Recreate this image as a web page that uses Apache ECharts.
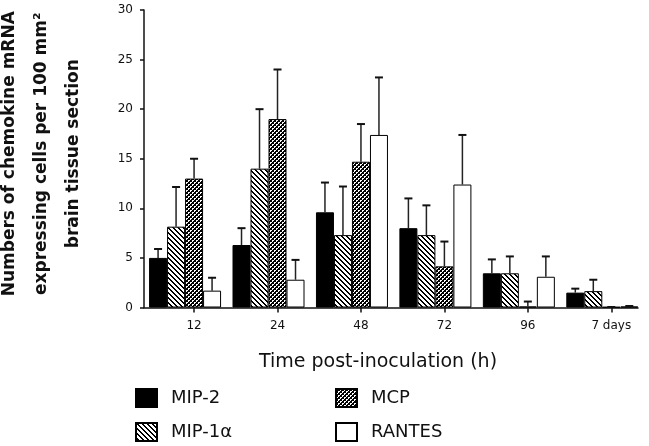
<!DOCTYPE html>
<html><head><meta charset="utf-8">
<script src="https://cdn.jsdelivr.net/npm/echarts@6/dist/echarts.min.js"></script>
<style>html,body{margin:0;padding:0;background:#fff}#c{width:649px;height:446px}</style>
</head><body><div id="c"></div>
<script>
// ---- data ----
const categories = ['12', '24', '48', '72', '96', '7 days'];
const seriesNames = ['MIP-2', 'MIP-1α', 'MCP', 'RANTES'];
const mip2      = [5.0, 6.3, 9.6, 8.0, 3.45, 1.5];
const mip2Err   = [0.9, 1.7, 3.0, 3.0, 1.4, 0.4];
const mip1a     = [8.15, 14.0, 7.3, 7.3, 3.45, 1.65];
const mip1aErr  = [4.0, 6.0, 4.9, 3.0, 1.7, 1.15];
const mcp       = [13.0, 19.0, 14.7, 4.15, 0.1, 0.05];
const mcpErr    = [2.0, 5.0, 3.8, 2.5, 0.5, 0.0];
const rantes    = [1.7, 2.8, 17.4, 12.4, 3.1, 0.1];
const rantesErr = [1.3, 2.0, 5.8, 5.0, 2.05, 0.05];

// ---- styles ----
const BAR_W = 18, CAP = 4;
const FONT = 'DejaVu Sans';

function pixelPattern(size, isBlack) {
  const c = document.createElement('canvas');
  c.width = c.height = size;
  const g = c.getContext('2d');
  const img = g.createImageData(size, size);
  for (let y = 0; y < size; y++) for (let x = 0; x < size; x++) {
    const v = isBlack(x, y) ? 0 : 255, o = (y * size + x) * 4;
    img.data[o] = img.data[o + 1] = img.data[o + 2] = v; img.data[o + 3] = 255;
  }
  g.putImageData(img, 0, 0);
  return { image: c, repeat: 'repeat' };
}
// diagonal "\" hatch
const hatch = pixelPattern(5, (x, y) => { const d = ((x - y) % 5 + 5) % 5; return d === 0 || d === 1; });
// dense black mesh with white dots
const whiteDots = new Set(['0,0', '1,0', '0,1', '2,2', '3,2', '2,3']);
const mesh = pixelPattern(4, (x, y) => !whiteDots.has(x + ',' + y));

const fills = ['#000', hatch, mesh, '#fff'];
const values = [mip2, mip1a, mcp, rantes];
const errors = [mip2Err, mip1aErr, mcpErr, rantesErr];

const series = [];
values.forEach((vals, k) => {
  series.push({
    type: 'bar', name: seriesNames[k], barWidth: BAR_W, barGap: '0%',
    data: vals.map((v, i) => [i + 1, v]),
    itemStyle: { color: fills[k], borderColor: '#000', borderWidth: 1 },
    emphasis: { disabled: true }, z: 2
  });
});
// empty fifth slot (the original layout reserves room for it)
series.push({ type: 'bar', name: '', barWidth: BAR_W, barGap: '0%', data: [] });

values.forEach((vals, k) => {
  const errs = errors[k];
  series.push({
    type: 'custom', silent: true, z: 3,
    data: vals.map((v, i) => [i + 1, v, v + errs[i]]),
    encode: { x: 0, y: [1, 2] },
    renderItem(params, api) {
      const p0 = api.coord([api.value(0), api.value(1)]);
      const p1 = api.coord([api.value(0), api.value(2)]);
      const cx = p0[0] + (k - 2) * BAR_W;
      return { type: 'group', children: [
        { type: 'line', shape: { x1: cx, y1: p0[1], x2: cx, y2: p1[1] }, style: { stroke: '#222', lineWidth: 1.5 } },
        { type: 'line', shape: { x1: cx - CAP, y1: p1[1], x2: cx + CAP, y2: p1[1] }, style: { stroke: '#111', lineWidth: 2 } }
      ]};
    }
  });
});

const tickPos = categories.map((_, i) => i + 1);
const chart = echarts.init(document.getElementById('c'), null, { renderer: 'canvas' });
chart.setOption({
  animation: false,
  backgroundColor: '#fff',
  grid: { left: 144, right: 11, top: 10, bottom: 138.5, outerBoundsMode: 'none' },
  xAxis: {
    type: 'value', min: 0.4, max: 6.32,
    axisLine: { show: true, lineStyle: { color: '#111', width: 1.5 } },
    axisTick: { show: true, length: 5, customValues: tickPos, lineStyle: { color: '#111', width: 1.5 } },
    axisLabel: { customValues: tickPos, formatter: v => categories[Math.round(v) - 1], margin: 12,
      fontSize: 12, fontFamily: FONT, color: '#111' },
    splitLine: { show: false },
    name: 'Time post-inoculation (h)', nameLocation: 'middle', nameGap: 45,
    nameTextStyle: { fontSize: 19, fontFamily: FONT, color: '#111', padding: [0, 26, 0, 0] }
  },
  yAxis: {
    type: 'value', min: 0, max: 30, interval: 5,
    axisLine: { show: true, lineStyle: { color: '#111', width: 1.5 } },
    axisTick: { show: true, length: 4, lineStyle: { color: '#111', width: 1.5 } },
    axisLabel: { margin: 11, fontSize: 12, fontFamily: FONT, color: '#111' },
    splitLine: { show: false },
    name: 'Numbers of chemokine mRNA\nexpressing cells per 100 mm²\nbrain tissue section',
    nameLocation: 'middle', nameRotate: 90, nameGap: 54,
    nameTextStyle: { fontSize: 17, fontWeight: 'bold', fontFamily: FONT, color: '#111', lineHeight: 32,
      align: 'center', padding: [0, 0, 0, 10] }
  },
  legend: [
    { data: seriesNames.slice(0, 2), orient: 'vertical', left: 135, top: 388, padding: 0,
      itemWidth: 21, itemHeight: 18, itemGap: 14, icon: 'rect', selectedMode: false,
      textStyle: { fontSize: 18, fontFamily: FONT, color: '#111', padding: [0, 0, 0, 9] } },
    { data: seriesNames.slice(2, 4), orient: 'vertical', left: 335, top: 388, padding: 0,
      itemWidth: 21, itemHeight: 18, itemGap: 14, icon: 'rect', selectedMode: false,
      textStyle: { fontSize: 18, fontFamily: FONT, color: '#111', padding: [0, 0, 0, 9] } }
  ],
  series
});
</script></body></html>
